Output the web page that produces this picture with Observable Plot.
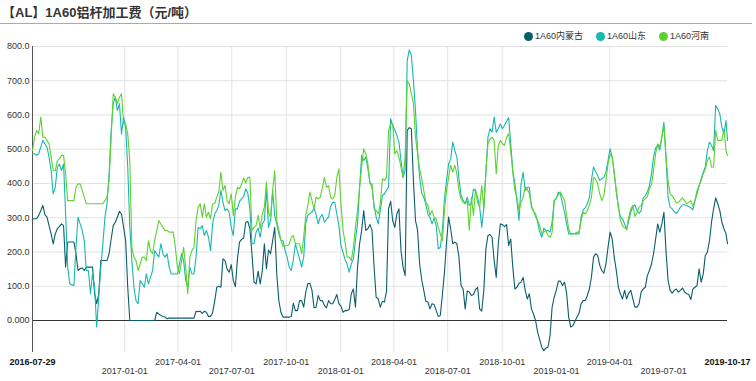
<!DOCTYPE html>
<html><head><meta charset="utf-8">
<script src="https://cdn.jsdelivr.net/npm/d3@7"></script>
<script src="https://cdn.jsdelivr.net/npm/@observablehq/plot@0.6"></script>
<style>
body{margin:0;background:#fff;}
#wrap{position:relative;width:756px;height:381px;overflow:hidden;background:#fff;}
#title{width:752px;height:24px;box-sizing:border-box;border-bottom:1px solid #aaa;font:bold 13px "Liberation Sans","Noto Sans CJK SC",sans-serif;color:#333;line-height:25px;padding-left:2px;}
#legend{position:absolute;top:31px;left:524px;display:flex;font:9px "Liberation Sans","Noto Sans CJK SC",sans-serif;color:#333;line-height:10px;}
#legend .item{display:flex;align-items:center;margin-right:13px;}
#legend i{display:inline-block;width:9px;height:9px;border-radius:50%;margin-right:2px;}
svg{display:block;}
</style></head>
<body><div id="wrap"><div id="title">【AL】1A60铝杆加工费（元/吨）</div><div id="legend"></div><div id="chart"></div></div>
<script>
const seriesNames = ["1A60内蒙古", "1A60山东", "1A60河南"];
const seriesColors = ["#0b5d6b", "#17b8ae", "#5dd22e"];
const firstDate = "2016-07-29";
const lastDate = "2019-10-17";
const stepHours = 84; // readings every 3.5 days, last one on lastDate
const gridDates = ["2017-01-01","2017-04-01","2017-07-01","2017-10-01","2018-01-01","2018-04-01","2018-07-01","2018-10-01","2019-04-01"];
const upperLabels = ["2017-04-01","2017-10-01","2018-04-01","2018-10-01","2019-04-01"];
const lowerLabels = ["2017-01-01","2017-07-01","2018-01-01","2018-07-01","2019-01-01","2019-07-01"];
const endLabels = [firstDate, lastDate];
const yTicks = [0,100,200,300,400,500,600,700,800];

const neimenggu = [
297,297,297,307,321,336,309,302,277,253,
224,253,268,274,282,277,156,229,229,229,
229,195,146,151,154,146,156,156,156,156,
78,49,78,175,175,175,175,195,238,277,
287,302,319,311,272,233,97,0,0,0,
0,0,0,0,0,0,0,0,0,0,
24,19,15,12,10,5,7,7,7,7,
7,7,7,7,7,7,7,7,7,27,
26,27,21,27,24,12,12,23,56,97,
100,97,180,175,150,141,163,117,99,180,
229,237,241,287,289,268,195,112,107,144,
107,146,224,151,206,195,233,272,136,58,
24,10,10,10,10,12,50,29,29,58,
58,39,83,107,109,88,37,39,73,58,
58,44,37,58,49,49,61,76,49,42,
24,29,29,32,78,92,39,156,224,263,
321,263,268,280,263,156,68,63,39,56,
54,86,326,348,292,272,311,326,204,156,
131,555,563,560,409,292,263,165,119,88,
56,54,34,49,47,29,12,15,76,141,
229,302,268,224,229,224,185,102,92,34,
86,83,73,76,90,97,34,27,88,209,
248,251,243,175,126,224,282,280,274,280,
219,238,156,92,97,109,112,126,88,63,
78,34,19,0,-34,-56,-78,-88,-80,-78,
-44,39,68,88,115,115,102,112,80,10,
-19,-15,-2,10,21,49,58,58,73,92,
127,185,195,190,161,146,138,165,214,258,
238,185,146,97,78,63,88,63,80,88,
63,39,39,49,83,92,97,131,146,165,
195,238,282,258,282,316,204,117,88,80,
88,92,83,88,95,83,78,76,61,92,
97,102,151,112,136,190,200,233,287,326,
358,341,321,287,268,253,224];

const shandong = [
487,487,482,487,506,526,516,506,477,438,
370,389,448,457,438,457,311,156,107,104,
102,214,302,282,263,233,146,146,78,136,
97,-19,68,156,224,302,341,428,555,633,
652,613,633,545,594,564,448,272,175,97,
58,49,117,107,97,136,107,126,146,204,
195,185,224,195,185,195,156,136,136,136,
136,165,195,175,117,97,156,136,136,185,
272,268,277,248,263,243,204,282,311,321,
336,380,345,321,326,316,272,248,326,326,
348,355,362,384,372,326,224,224,258,270,
243,282,292,384,272,292,380,306,282,253,
233,233,204,185,156,146,178,224,202,180,
156,185,284,307,313,316,328,309,282,302,
309,287,295,302,333,345,345,311,277,219,
199,177,164,141,165,180,234,282,389,482,
467,477,443,404,389,336,302,282,321,365,
370,380,389,589,569,557,540,521,467,418,
438,759,790,774,701,613,496,418,372,360,
339,311,300,282,299,277,209,214,263,355,
409,457,472,521,496,477,414,365,352,341,
360,336,343,384,377,360,331,272,331,428,
535,560,550,594,550,560,574,560,570,582,
592,516,438,399,350,292,399,433,380,389,
389,331,319,311,287,258,243,270,263,263,
258,287,350,355,375,368,343,316,282,253,
253,253,253,253,253,302,323,329,341,360,
411,448,435,423,409,414,418,433,467,501,
477,433,375,331,302,297,282,265,292,316,
333,338,321,313,321,358,364,375,394,428,
477,504,511,498,535,579,477,360,331,326,
318,313,321,331,338,338,336,333,329,323,
350,370,394,414,433,448,496,521,511,496,
628,618,603,564,545,584,526];

const henan = [
496,535,555,545,594,535,535,526,516,477,
438,438,467,472,482,482,428,350,350,350,
350,389,399,399,380,360,341,341,341,341,
341,341,341,341,341,350,360,409,535,662,
652,633,652,662,574,574,545,467,214,185,
175,146,165,185,185,175,233,204,195,233,
263,292,282,272,263,263,258,258,258,214,
156,136,175,214,156,78,185,204,214,292,
331,341,301,341,301,316,297,341,341,360,
375,433,380,394,350,341,370,307,360,389,
384,399,416,401,418,418,263,272,277,307,
268,311,331,404,316,301,380,438,292,263,
236,216,218,219,222,243,248,224,224,224,
195,243,307,336,375,350,326,360,355,360,
387,418,389,394,360,355,365,418,443,341,
263,229,185,185,175,214,272,321,389,448,
501,487,457,399,399,326,321,311,341,414,
409,418,555,574,574,487,496,477,448,418,
477,700,691,662,633,535,487,443,414,380,
345,336,307,321,302,297,272,253,233,321,
380,418,453,433,453,428,380,355,345,341,
350,263,360,307,384,345,331,394,326,438,
516,530,535,526,428,511,526,516,511,535,
545,496,433,380,360,321,345,360,389,384,
370,336,321,302,292,277,253,258,263,248,
243,258,350,358,368,375,362,352,307,268,
253,253,255,258,258,292,316,311,321,336,
360,418,413,399,370,350,365,409,457,485,
477,428,380,331,292,277,270,268,302,326,
336,304,316,331,336,350,355,362,384,397,
438,487,516,508,535,569,477,409,370,364,
355,343,345,352,358,350,341,345,350,334,
350,380,394,409,428,443,467,477,448,448,
555,526,526,526,560,496,482];

const seriesValues = [neimenggu, shandong, henan];
const parse = d3.utcParse("%Y-%m-%d");
const fmt = d3.utcFormat("%Y-%m-%d");
const start = parse(firstDate), end = parse(lastDate);
const n = neimenggu.length;
const dates = d3.range(n).map(i => i < n - 1 ? d3.utcHour.offset(start, stepHours * i) : end);

const leg = document.getElementById("legend");
seriesNames.forEach((name, k) => {
  const s = document.createElement("span"); s.className = "item";
  s.innerHTML = `<i style="background:${seriesColors[k]}"></i>${name}`;
  leg.appendChild(s);
});

const lineMarks = seriesValues.map((vals, k) =>
  Plot.line(vals.map((v, i) => ({date: dates[i], value: v})), {x: "date", y: "value", stroke: seriesColors[k], strokeWidth: 1.1})
);

const chart = Plot.plot({
  width: 756, height: 357,
  marginLeft: 32, marginRight: 29, marginTop: 22, marginBottom: 29,
  style: {fontFamily: '"Liberation Sans", Arial, sans-serif', fontSize: "9px", color: "#333", background: "#fff", overflow: "visible"},
  x: {type: "utc", domain: [start, end], axis: null},
  y: {domain: [-93.4, 800], axis: null},
  marks: [
    Plot.ruleY(yTicks.filter(v => v !== 0), {stroke: "#e2e2e2", strokeWidth: 1}),
    Plot.ruleX(gridDates.map(parse), {stroke: "#e2e2e2", strokeWidth: 1}),
    Plot.axisY({ticks: yTicks, tickSize: 0, tickPadding: 3, label: null, tickFormat: d => d === 0 ? "0.000" : d.toFixed(1), fill: "#333"}),
    Plot.axisX({ticks: upperLabels.map(parse), tickSize: 0, tickPadding: 6, label: null, tickFormat: fmt, fill: "#333"}),
    Plot.axisX({ticks: lowerLabels.map(parse), tickSize: 0, tickPadding: 15, label: null, tickFormat: fmt, fill: "#333"}),
    Plot.axisX({ticks: endLabels.map(parse), tickSize: 0, tickPadding: 6, label: null, tickFormat: fmt, fill: "#111", fontWeight: "bold"}),
    Plot.ruleY([0], {stroke: "#333", strokeWidth: 1}),
    Plot.ruleX([start], {y1: -93.4, y2: 800, stroke: "#555", strokeWidth: 1}),
    ...lineMarks
  ]
});
document.getElementById("chart").appendChild(chart);
</script></body></html>
